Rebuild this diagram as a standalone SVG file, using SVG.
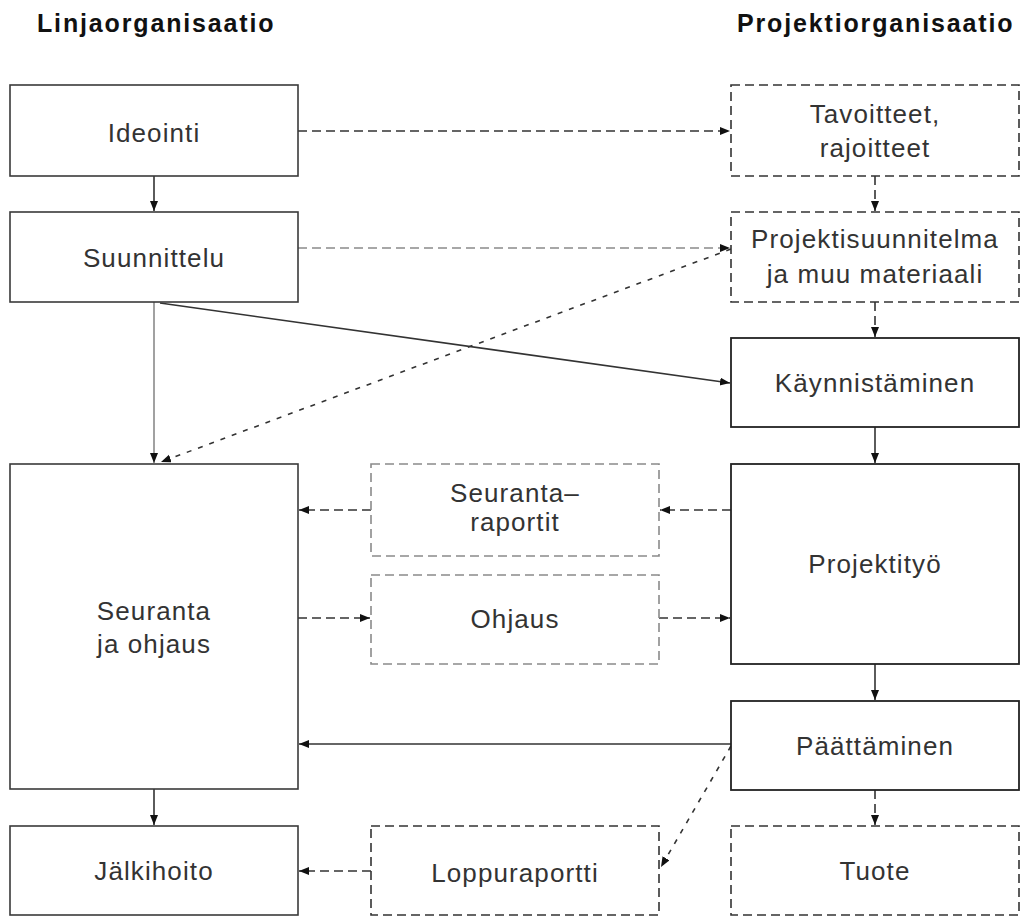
<svg xmlns="http://www.w3.org/2000/svg" width="1020" height="917" viewBox="0 0 1020 917">
  <style>
    .title { font-family: "Liberation Sans", Arial, sans-serif; font-size: 25px; font-weight: bold; letter-spacing: 1.85px; fill: #111; }
    .lbl { font-family: "Liberation Sans", Arial, sans-serif; font-size: 26px; letter-spacing: 1.1px; fill: #333; text-anchor: middle; }
    .box { fill: #fff; stroke: #3a3a3a; stroke-width: 1.6; }
    .box-dark { fill: #fff; stroke: #222; stroke-width: 1.8; }
    .box-dash { fill: #fff; stroke: #333; stroke-width: 1.6; stroke-dasharray: 9 5; }
    .box-dash-light { fill: #fff; stroke: #8a8a8a; stroke-width: 1.6; stroke-dasharray: 9 5; }
    .c { fill: none; stroke-width: 1.6; marker-end: url(#arrow); }
    .solid { stroke: #333; }
    .solid-light { stroke: #8a8a8a; }
    .dash { stroke: #333; stroke-dasharray: 9 5; }
    .dash-light { stroke: #8a8a8a; stroke-dasharray: 9 5; }
    .dash-short { stroke: #333; stroke-dasharray: 5 7; }
  </style>
  <defs>
    <marker id="arrow" markerUnits="userSpaceOnUse" markerWidth="12" markerHeight="10" refX="10" refY="4" orient="auto">
      <path d="M0,0 L10,4 L0,8 Z" fill="#111"/>
    </marker>
  </defs>

  <rect width="1020" height="917" fill="#fff"/>

  <!-- column headings -->
  <text class="title" x="37" y="32">Linjaorganisaatio</text>
  <text class="title" x="737" y="32">Projektiorganisaatio</text>

  <!-- connectors -->
  <g id="connectors">
    <!-- line organisation, vertical flow -->
    <line class="c solid" x1="154" y1="176" x2="154" y2="211"/>
    <line class="c solid-light" x1="154" y1="302" x2="154" y2="463"/>
    <line class="c solid" x1="154" y1="789" x2="154" y2="825"/>
    <!-- project organisation, vertical flow -->
    <line class="c dash" x1="875" y1="176" x2="875" y2="211"/>
    <line class="c dash" x1="875" y1="302" x2="875" y2="337"/>
    <line class="c solid" x1="875" y1="427" x2="875" y2="463"/>
    <line class="c solid" x1="875" y1="664" x2="875" y2="700"/>
    <line class="c dash" x1="875" y1="790" x2="875" y2="825"/>
    <!-- cross links -->
    <line class="c dash" x1="298" y1="131" x2="730" y2="131"/>
    <line class="c dash-light" x1="298" y1="248" x2="730" y2="248"/>
    <line class="c dash-short" x1="731" y1="249" x2="161" y2="462"/>
    <line class="c solid" x1="160" y1="303" x2="730" y2="383"/>
    <!-- reporting and steering -->
    <line class="c dash" x1="731" y1="510" x2="660" y2="510"/>
    <line class="c dash" x1="371" y1="510" x2="299" y2="510"/>
    <line class="c dash" x1="298" y1="618" x2="370" y2="618"/>
    <line class="c dash" x1="659" y1="618" x2="730" y2="618"/>
    <!-- closing -->
    <line class="c solid" x1="731" y1="744" x2="299" y2="744"/>
    <line class="c dash-short" x1="731" y1="746" x2="661" y2="867"/>
    <line class="c dash" x1="371" y1="871" x2="299" y2="871"/>
  </g>

  <!-- line organisation -->
  <g id="ideointi">
    <rect class="box" x="10" y="85" width="288" height="91"/>
    <text class="lbl" x="154" y="142">Ideointi</text>
  </g>
  <g id="suunnittelu">
    <rect class="box" x="10" y="212" width="288" height="90"/>
    <text class="lbl" x="154" y="267">Suunnittelu</text>
  </g>
  <g id="seuranta-ja-ohjaus">
    <rect class="box" x="10" y="464" width="288" height="325"/>
    <text class="lbl" x="154" y="620">Seuranta</text>
    <text class="lbl" x="154" y="653">ja ohjaus</text>
  </g>
  <g id="jalkihoito">
    <rect class="box" x="10" y="826" width="288" height="89"/>
    <text class="lbl" x="154" y="880">Jälkihoito</text>
  </g>

  <!-- documents between the organisations -->
  <g id="seurantaraportit">
    <rect class="box-dash-light" x="371" y="464" width="288" height="92"/>
    <text class="lbl" x="515" y="502">Seuranta–</text>
    <text class="lbl" x="515" y="531">raportit</text>
  </g>
  <g id="ohjaus">
    <rect class="box-dash-light" x="371" y="575" width="288" height="89"/>
    <text class="lbl" x="515" y="628">Ohjaus</text>
  </g>
  <g id="loppuraportti">
    <rect class="box-dash" x="371" y="826" width="288" height="89"/>
    <text class="lbl" x="515" y="882">Loppuraportti</text>
  </g>

  <!-- project organisation -->
  <g id="tavoitteet">
    <rect class="box-dash" x="731" y="85" width="288" height="91"/>
    <text class="lbl" x="875" y="123">Tavoitteet,</text>
    <text class="lbl" x="875" y="157">rajoitteet</text>
  </g>
  <g id="projektisuunnitelma">
    <rect class="box-dash" x="731" y="212" width="288" height="90"/>
    <text class="lbl" x="875" y="248">Projektisuunnitelma</text>
    <text class="lbl" x="875" y="283">ja muu materiaali</text>
  </g>
  <g id="kaynnistaminen">
    <rect class="box-dark" x="731" y="338" width="288" height="89"/>
    <text class="lbl" x="875" y="392">Käynnistäminen</text>
  </g>
  <g id="projektityo">
    <rect class="box-dark" x="731" y="464" width="288" height="200"/>
    <text class="lbl" x="875" y="573">Projektityö</text>
  </g>
  <g id="paattaminen">
    <rect class="box-dark" x="731" y="701" width="288" height="89"/>
    <text class="lbl" x="875" y="755">Päättäminen</text>
  </g>
  <g id="tuote">
    <rect class="box-dash" x="731" y="826" width="288" height="89"/>
    <text class="lbl" x="875" y="880">Tuote</text>
  </g>
</svg>
